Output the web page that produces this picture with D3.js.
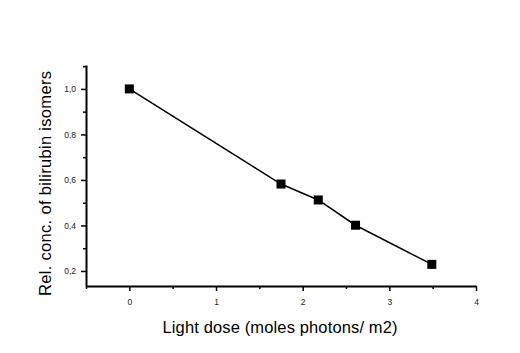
<!DOCTYPE html>
<html>
<head>
<meta charset="utf-8">
<script src="https://cdn.jsdelivr.net/npm/d3@7"></script>
<style>
  body { margin: 0; background: #fff; }
  svg { display: block; font-family: "Liberation Sans", Arial, sans-serif; }
</style>
</head>
<body>
<svg id="chart" width="520" height="353"></svg>
<script>
// light dose vs relative concentration
var dose = [0, 1.75, 2.18, 2.61, 3.49];
var conc = [1.0, 0.582, 0.512, 0.401, 0.229];
var xTicks = [0, 1, 2, 3, 4];
var yTicks = [1.0, 0.8, 0.6, 0.4, 0.2];
var yTickLabels = ["1,0", "0,8", "0,6", "0,4", "0,2"];

var svg = d3.select("#chart");

var x = d3.scaleLinear().domain([-0.5, 4]).range([86, 476]);
var y = d3.scaleLinear().domain([0.134, 1.105]).range([286, 65]);

// minor ticks x
svg.append("g")
    .attr("transform", "translate(0,286)")
    .call(d3.axisBottom(x).tickValues(d3.range(-0.5, 4, 1)).tickSize(3).tickFormat(""))
    .call(function (g) { g.select(".domain").remove(); })
    .selectAll("line").attr("stroke-width", 1.5);

svg.append("g")
    .attr("transform", "translate(0,286)")
    .call(d3.axisBottom(x).tickValues(xTicks).tickSize(5).tickSizeOuter(0).tickPadding(8)
      .tickFormat(d3.format("d")))
    .call(function (g) {
      g.select(".domain").attr("stroke-width", 2);
      g.selectAll("line").attr("stroke-width", 1.5);
      g.selectAll("text").attr("font-size", 8.5).attr("fill", "#222");
    });

// minor ticks y
svg.append("g")
    .attr("transform", "translate(86,0)")
    .call(d3.axisLeft(y).tickValues([1.1, 0.9, 0.7, 0.5, 0.3]).tickSize(3).tickFormat(""))
    .call(function (g) { g.select(".domain").remove(); })
    .selectAll("line").attr("stroke-width", 1.5);

svg.append("g")
    .attr("transform", "translate(86,0)")
    .call(d3.axisLeft(y).tickValues(yTicks).tickSize(5).tickSizeOuter(0).tickPadding(5)
      .tickFormat(function (d, i) { return yTickLabels[i]; }))
    .call(function (g) {
      g.select(".domain").attr("stroke-width", 2);
      g.selectAll("line").attr("stroke-width", 1.5);
      g.selectAll("text").attr("font-size", 8.5).attr("fill", "#222");
    });

var line = d3.line()
    .x(function (d, i) { return x(dose[i]); })
    .y(function (d) { return y(d); });

svg.append("path")
    .datum(conc)
    .attr("fill", "none")
    .attr("stroke", "#000")
    .attr("stroke-width", 1.5)
    .attr("d", line);

svg.selectAll(".pt")
    .data(conc)
  .enter().append("rect")
    .attr("class", "pt")
    .attr("x", function (d, i) { return x(dose[i]) - 4.5; })
    .attr("y", function (d) { return y(d) - 4.5; })
    .attr("width", 9)
    .attr("height", 9)
    .attr("fill", "#000");

svg.append("text")
    .attr("x", 280)
    .attr("y", 333)
    .attr("text-anchor", "middle")
    .attr("font-size", 16.5)
    .attr("textLength", 235)
    .text("Light dose (moles photons/ m2)");

svg.append("text")
    .attr("transform", "translate(51,183.5) rotate(-90)")
    .attr("text-anchor", "middle")
    .attr("font-size", 16.5)
    .attr("textLength", 225)
    .text("Rel. conc. of bilirubin isomers");
</script>
</body>
</html>
